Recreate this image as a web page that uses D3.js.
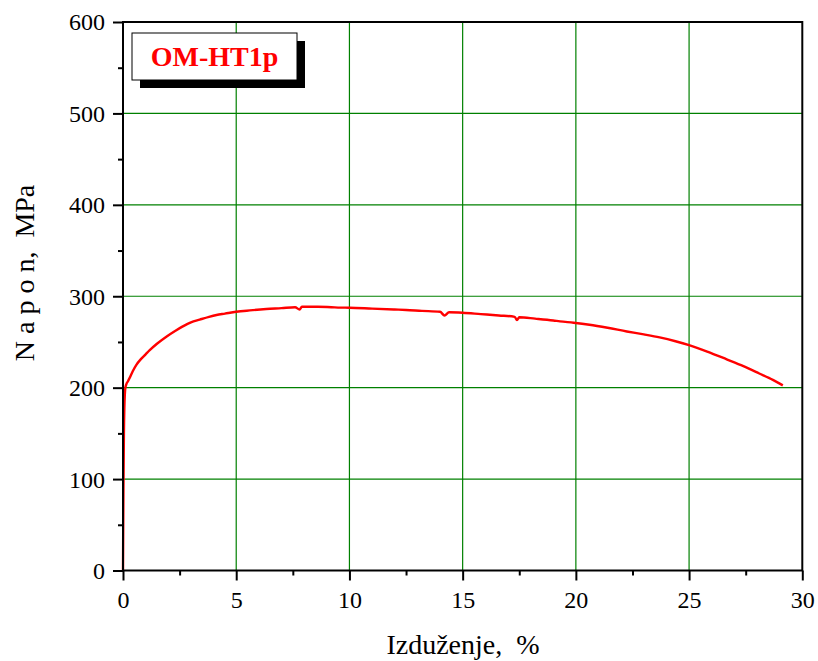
<!DOCTYPE html>
<meta charset="utf-8">
<script src="https://d3js.org/d3.v7.min.js"></script>
<style>
  body { margin: 0; background: #fff; }
  text { font-family: "Liberation Serif", "Times New Roman", serif; fill: #000; }
</style>
<body>
<div id="my_dataviz"></div>
<script>

// strain, %
var strain = [0, 0.02, 0.04, 0.06, 0.08, 0.1, 0.15, 0.22, 0.3, 0.43, 0.59, 0.8, 1.0, 1.18, 1.5,
  1.93, 2.3, 2.64, 3.0, 3.39, 3.8, 4.13, 4.5, 5.0, 5.6, 6.33, 7.0, 7.6, 7.8, 7.9, 8.2, 8.6,
  9.2, 9.6, 10.0, 11.0, 12.0, 12.5, 13.2, 14.0, 14.2, 14.4, 15.0, 15.8, 16.6, 17.3, 17.4,
  17.5, 18.2, 19.0, 19.3, 19.9, 20.6, 21.4, 22.25, 23.0, 23.7, 24.4, 25.0, 25.8, 26.66,
  27.4, 28.1, 28.7, 29.14];
// stress, MPa
var stress = [0, 90, 150, 178, 192, 199, 204, 207, 211, 218, 225, 231.5, 236.5, 241, 248,
  256, 262, 267, 271.5, 274.5, 277.5, 279.5, 281, 283, 284.5, 286, 287, 288, 285.5, 288.5, 288.5, 288.5,
  288, 287.6, 287.5, 286.5, 285.5, 285, 284, 283, 279, 282.5, 282, 280.5, 279, 277.5, 274,
  277, 275.5, 273.5, 272.5, 271, 268.8, 265.5, 261.5, 258.3, 255, 250.8, 246.5, 239.5, 231,
  223.5, 215.5, 208.5, 202.5];

var xTicks = [0, 5, 10, 15, 20, 25, 30];
var yTicks = [0, 100, 200, 300, 400, 500, 600];
var xMinor = [2.5, 7.5, 12.5, 17.5, 22.5, 27.5];
var yMinor = [50, 150, 250, 350, 450, 550];
var label = "OM-HT1p";

var margin = {top: 22, right: 16, bottom: 91, left: 123},
    W = 818, H = 661,
    width = 802.3 - margin.left,
    height = 570.5 - margin.top;

var svg = d3.select("#my_dataviz").append("svg")
    .attr("width", W).attr("height", H)
  .append("g")
    .attr("transform", "translate(" + margin.left + "," + margin.top + ")");

var x = d3.scaleLinear().domain([0, 30]).range([0, width]);
var y = d3.scaleLinear().domain([0, 600]).range([height, 0]);

// grid
svg.append("g").selectAll("line")
    .data(xTicks.slice(1, -1)).enter().append("line")
    .attr("x1", d => x(d)).attr("x2", d => x(d))
    .attr("y1", 0).attr("y2", height)
    .attr("stroke", "#008000").attr("stroke-width", 1.2);
svg.append("g").selectAll("line")
    .data(yTicks.slice(1, -1)).enter().append("line")
    .attr("y1", d => y(d)).attr("y2", d => y(d))
    .attr("x1", 0).attr("x2", width)
    .attr("stroke", "#008000").attr("stroke-width", 1.2);

// curve
var pts = strain.map((s, i) => [s, stress[i]]);
svg.append("path")
    .datum(pts)
    .attr("fill", "none")
    .attr("stroke", "#ff0000")
    .attr("stroke-width", 2.4)
    .attr("stroke-linejoin", "round")
    .attr("d", d3.line().curve(d3.curveMonotoneX).x(d => x(d[0])).y(d => y(d[1])));

// frame
svg.append("rect")
    .attr("x", 0).attr("y", 0).attr("width", width).attr("height", height)
    .attr("fill", "none").attr("stroke", "#000").attr("stroke-width", 2);

// axes
var xAxis = svg.append("g")
    .attr("transform", "translate(0," + height + ")")
    .call(d3.axisBottom(x).tickValues(xTicks).tickSize(10).tickPadding(10).tickFormat(d3.format("d")));
var xMin = svg.append("g")
    .attr("transform", "translate(0," + height + ")")
    .call(d3.axisBottom(x).tickValues(xMinor).tickSize(5).tickFormat(""));
var yAxis = svg.append("g")
    .call(d3.axisLeft(y).tickValues(yTicks).tickSize(10).tickPadding(8).tickFormat(d3.format("d")));
var yMin = svg.append("g")
    .call(d3.axisLeft(y).tickValues(yMinor).tickSize(5).tickFormat(""));

[xAxis, xMin, yAxis, yMin].forEach(function (g) {
  g.select(".domain").remove();
  g.selectAll(".tick line").attr("stroke", "#000").attr("stroke-width", 2);
  g.selectAll(".tick text")
    .style("font-family", '"Liberation Serif", "Times New Roman", serif')
    .style("font-size", "24px").attr("fill", "#000");
});
yAxis.selectAll(".tick text").attr("dy", "0.33em");

// axis titles
svg.append("text")
    .attr("text-anchor", "middle")
    .attr("x", 463 - margin.left)
    .attr("y", 654 - margin.top)
    .style("font-size", "28px")
    .text("Izduženje,\u00a0\u00a0%");

svg.append("text")
    .attr("text-anchor", "middle")
    .attr("transform", "translate(" + (34 - margin.left) + "," + (273 - margin.top) + ") rotate(-90)")
    .style("font-size", "28px")
    .text("N\u00a0a\u00a0p\u00a0o\u00a0n,\u00a0\u00a0MPa");

// label box with shadow
var bx = 132 - margin.left, by = 33 - margin.top, bw = 165, bh = 47;
svg.append("rect")
    .attr("x", bx + 8).attr("y", by + 8).attr("width", bw).attr("height", bh)
    .attr("fill", "#000");
svg.append("rect")
    .attr("x", bx).attr("y", by).attr("width", bw).attr("height", bh)
    .attr("fill", "#fff").attr("stroke", "#000").attr("stroke-width", 1);
svg.append("text")
    .attr("x", bx + bw / 2).attr("y", by + 33)
    .attr("text-anchor", "middle")
    .style("font-size", "28px").style("font-weight", "bold")
    .style("fill", "#ff0000")
    .text(label);

</script>
</body>
